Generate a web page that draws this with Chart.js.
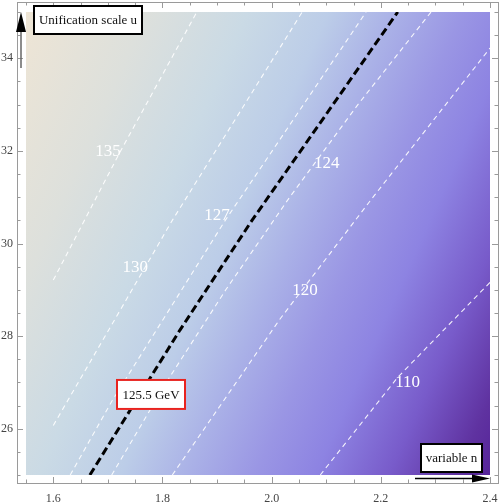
<!DOCTYPE html>
<html>
<head>
<meta charset="utf-8">
<script src="https://cdn.jsdelivr.net/npm/chart.js@4.4.0/dist/chart.umd.min.js"></script>
<style>
    html, body { margin: 0; padding: 0; background: #fff; }
</style>
</head>
<body>
<canvas id="contourChart" width="500" height="503"></canvas>
<script>
// axis ranges and tick labels
const nMin = 1.55, nMax = 2.4;
const uMin = 25, uMax = 35;
const nTicks = [1.6, 1.8, 2.0, 2.2, 2.4];
const uTicks = [26, 28, 30, 32, 34];

// contour lines, traced as (n, u) points
const n135 = [1.600, 1.722, 1.863];
const u135 = [29.21, 31.97, 35.0];
const n130 = [1.600, 1.818, 2.056];
const u130 = [26.07, 30.50, 35.0];
const n127 = [1.631, 1.708, 1.823, 1.915, 2.173];
const u127 = [25.0, 26.61, 28.77, 30.50, 35.0];
const nHiggs = [1.667, 1.832, 1.916, 1.964, 2.231];
const uHiggs = [25.0, 28.13, 29.64, 30.50, 35.0];
const n124 = [1.707, 1.807, 1.916, 2.033, 2.158, 2.292];
const u124 = [25.0, 27.0, 29.0, 31.0, 33.0, 35.0];
const n120 = [1.818, 2.016, 2.181, 2.400];
const u120 = [25.0, 28.38, 30.93, 34.22];
const n110 = [2.089, 2.231, 2.400];
const u110 = [25.0, 27.11, 29.16];

// contour labels
const labelText = ['135', '130', '127', '124', '120', '110'];
const labelN = [1.700, 1.750, 1.900, 2.101, 2.061, 2.249];
const labelU = [31.98, 29.49, 30.61, 31.73, 28.99, 27.00];
const higgsLabel = '125.5 GeV';
const higgsLabelN = 1.779, higgsLabelU = 26.74;

function toPoints(ns, us) {
    return ns.map((n, i) => ({ x: n, y: us[i] }));
}

const serif = '"Liberation Serif", "Times New Roman", serif';

function whiteContour(ns, us) {
    return {
        data: toPoints(ns, us),
        showLine: true,
        borderColor: 'rgba(255,255,255,0.9)',
        borderWidth: 1.1,
        borderDash: [5, 4],
        pointRadius: 0,
        fill: false
    };
}

// background shading (tan -> pale blue -> lavender -> violet)
const shadingPlugin = {
    id: 'shading',
    beforeDatasetsDraw(chart) {
        const { ctx, chartArea: a } = chart;
        const k = 0.45;
        const w = a.right - a.left, h = a.bottom - a.top;
        const t = (w + k * h) / (1 + k * k);
        const g = ctx.createLinearGradient(a.left, a.top, a.left + t, a.top + t * k);
        g.addColorStop(0.00, '#eee5d5');
        g.addColorStop(0.18, '#dde0dc');
        g.addColorStop(0.33, '#cadae5');
        g.addColorStop(0.45, '#bccde8');
        g.addColorStop(0.55, '#aab1e7');
        g.addColorStop(0.65, '#9a96e4');
        g.addColorStop(0.74, '#8d83e2');
        g.addColorStop(0.85, '#785bca');
        g.addColorStop(0.95, '#5f32a0');
        g.addColorStop(1.00, '#56249a');
        ctx.save();
        ctx.fillStyle = g;
        ctx.fillRect(a.left, a.top, w, h);
        ctx.restore();
    }
};

// frame with inward ticks, labels, boxes and arrows
const decorPlugin = {
    id: 'decor',
    afterDatasetsDraw(chart) {
        const { ctx, chartArea: a, scales } = chart;
        const xs = scales.x, ys = scales.y;
        ctx.save();

        // contour labels
        ctx.fillStyle = '#ffffff';
        ctx.font = '17px ' + serif;
        ctx.textAlign = 'center';
        ctx.textBaseline = 'middle';
        labelText.forEach((txt, i) => {
            ctx.fillText(txt, xs.getPixelForValue(labelN[i]), ys.getPixelForValue(labelU[i]));
        });

        // 125.5 GeV box
        const hx = xs.getPixelForValue(higgsLabelN), hy = ys.getPixelForValue(higgsLabelU);
        ctx.fillStyle = '#ffffff';
        ctx.fillRect(hx - 35, hy - 15.5, 70, 31);
        ctx.strokeStyle = '#e8231f';
        ctx.lineWidth = 2;
        ctx.strokeRect(hx - 34, hy - 14.5, 68, 29);
        ctx.fillStyle = '#111';
        ctx.font = '13px ' + serif;
        ctx.fillText(higgsLabel, hx, hy + 1);

        // frame
        const L = a.left - 9, R = a.right + 8, T = a.top - 10, B = a.bottom + 8;
        ctx.strokeStyle = '#9a9a9a';
        ctx.lineWidth = 1;
        ctx.strokeRect(L + 0.5, T + 0.5, R - L, B - T);
        ctx.beginPath();
        for (let i = 0; i <= 17; i++) {
            const v = nMin + i * 0.05;
            const px = Math.round(xs.getPixelForValue(v)) + 0.5;
            const major = Math.abs(v / 0.2 - Math.round(v / 0.2)) < 1e-6;
            const len = major ? 6 : 3.5;
            ctx.moveTo(px, B); ctx.lineTo(px, B - len);
            ctx.moveTo(px, T); ctx.lineTo(px, T + len);
        }
        for (let i = 0; i <= 20; i++) {
            const v = uMin + i * 0.5;
            const py = Math.round(ys.getPixelForValue(v)) + 0.5;
            const major = v % 2 === 0;
            const len = major ? 6 : 3.5;
            ctx.moveTo(L, py); ctx.lineTo(L + len, py);
            ctx.moveTo(R, py); ctx.lineTo(R - len, py);
        }
        ctx.stroke();

        // y arrow
        const ax = a.left - 5;
        ctx.strokeStyle = '#666';
        ctx.lineWidth = 1.5;
        ctx.beginPath();
        ctx.moveTo(ax, a.top + 56); ctx.lineTo(ax, a.top + 18);
        ctx.stroke();
        ctx.fillStyle = '#000';
        ctx.beginPath();
        ctx.moveTo(ax, a.top);
        ctx.lineTo(ax - 5, a.top + 20);
        ctx.lineTo(ax + 5, a.top + 20);
        ctx.closePath();
        ctx.fill();

        // x arrow
        const ay = a.bottom + 3.5;
        ctx.strokeStyle = '#000';
        ctx.lineWidth = 1.5;
        ctx.beginPath();
        ctx.moveTo(a.right - 75, ay); ctx.lineTo(a.right - 16, ay);
        ctx.stroke();
        ctx.beginPath();
        ctx.moveTo(a.right, ay);
        ctx.lineTo(a.right - 18, ay - 4);
        ctx.lineTo(a.right - 18, ay + 4);
        ctx.closePath();
        ctx.fill();

        // axis name boxes
        ctx.font = '13px ' + serif;
        ctx.lineWidth = 2;
        ctx.strokeStyle = '#000';
        [['Unification scale u', a.left + 7, a.top - 7, 110],
         ['variable n', a.right - 70, a.bottom - 32, 63]].forEach(([txt, bx, by, bw]) => {
            ctx.fillStyle = '#fff';
            ctx.fillRect(bx, by, bw, 30);
            ctx.strokeRect(bx + 1, by + 1, bw - 2, 28);
            ctx.fillStyle = '#111';
            ctx.fillText(txt, bx + bw / 2, by + 16);
        });

        ctx.restore();
    }
};

const tickFont = { family: serif, size: 12 };

function noScalePadding(s) {
    s.paddingTop = 0;
    s.paddingBottom = 0;
    s.paddingLeft = 0;
    s.paddingRight = 0;
}

new Chart(document.getElementById('contourChart'), {
    type: 'scatter',
    data: {
        datasets: [
            whiteContour(n135, u135),
            whiteContour(n130, u130),
            whiteContour(n127, u127),
            whiteContour(n124, u124),
            whiteContour(n120, u120),
            whiteContour(n110, u110),
            {
                data: toPoints(nHiggs, uHiggs),
                showLine: true,
                borderColor: '#000000',
                borderWidth: 3,
                borderDash: [8, 4],
                pointRadius: 0,
                fill: false
            }
        ]
    },
    options: {
        responsive: false,
        animation: false,
        layout: { padding: { top: 12, right: 10, left: 0, bottom: 0 } },
        plugins: {
            legend: { display: false },
            tooltip: { enabled: false }
        },
        scales: {
            x: {
                type: 'linear',
                min: nMin,
                max: nMax,
                grid: { display: false, drawTicks: false },
                border: { display: false },
                afterBuildTicks: s => { s.ticks = nTicks.map(v => ({ value: v })); },
                afterFit: s => { s.height = 28; noScalePadding(s); },
                ticks: {
                    padding: 17,
                    autoSkip: false,
                    maxRotation: 0,
                    color: '#444',
                    font: tickFont,
                    callback: v => Number(v).toFixed(1)
                }
            },
            y: {
                type: 'linear',
                min: uMin,
                max: uMax,
                grid: { display: false, drawTicks: false },
                border: { display: false },
                afterBuildTicks: s => { s.ticks = uTicks.map(v => ({ value: v })); },
                afterFit: s => { s.width = 26; noScalePadding(s); },
                ticks: {
                    padding: 13,
                    autoSkip: false,
                    color: '#444',
                    font: tickFont,
                    callback: v => String(v)
                }
            }
        }
    },
    plugins: [shadingPlugin, decorPlugin]
});
</script>
</body>
</html>
